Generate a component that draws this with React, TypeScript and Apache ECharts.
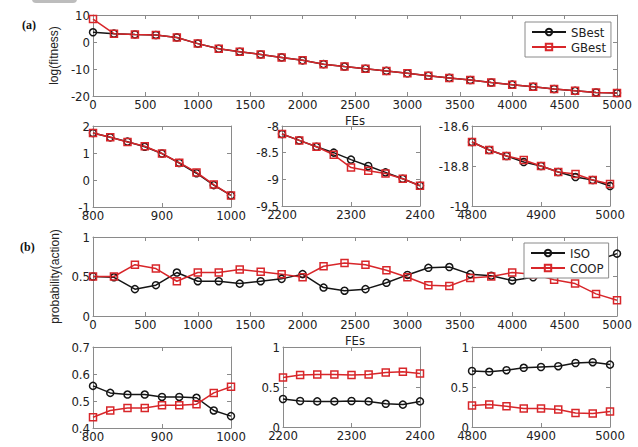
import React, { useEffect, useRef } from "react";
import * as echarts from "echarts";

// ---------- data ----------
const fesMain = [0, 200, 400, 600, 800, 1000, 1200, 1400, 1600, 1800, 2000, 2200, 2400, 2600, 2800, 3000, 3200, 3400, 3600, 3800, 4000, 4200, 4400, 4600, 4800, 5000];
const fesA1 = [800, 825, 850, 875, 900, 925, 950, 975, 1000];
const fesA2 = [2200, 2225, 2250, 2275, 2300, 2325, 2350, 2375, 2400];
const fesA3 = [4800, 4825, 4850, 4875, 4900, 4925, 4950, 4975, 5000];

const sBestMain = [3.6, 3.1, 2.8, 2.6, 1.7, -0.6, -2.5, -3.6, -4.6, -5.7, -6.8, -8.2, -9.1, -9.9, -10.7, -11.6, -12.5, -13.3, -14.1, -15.0, -15.8, -16.6, -17.4, -18.1, -18.7, -18.9];
const gBestMain = [8.5, 3.1, 2.8, 2.6, 1.7, -0.6, -2.5, -3.6, -4.6, -5.7, -6.8, -8.2, -9.1, -9.9, -10.7, -11.6, -12.5, -13.3, -14.1, -15.0, -15.8, -16.6, -17.4, -18.1, -18.7, -18.9];
const sBestA1 = [1.74, 1.58, 1.42, 1.23, 0.98, 0.63, 0.25, -0.19, -0.57];
const gBestA1 = [1.74, 1.58, 1.41, 1.25, 0.98, 0.64, 0.28, -0.17, -0.57];
const sBestA2 = [-8.15, -8.27, -8.39, -8.5, -8.63, -8.75, -8.87, -8.99, -9.12];
const gBestA2 = [-8.15, -8.27, -8.39, -8.54, -8.78, -8.84, -8.89, -8.99, -9.12];
const sBestA3 = [-18.68, -18.72, -18.75, -18.78, -18.8, -18.83, -18.855, -18.87, -18.9];
const gBestA3 = [-18.68, -18.72, -18.75, -18.77, -18.8, -18.83, -18.84, -18.87, -18.89];

const isoMain = [0.5, 0.49, 0.34, 0.39, 0.55, 0.44, 0.44, 0.41, 0.44, 0.47, 0.53, 0.36, 0.32, 0.34, 0.42, 0.52, 0.61, 0.62, 0.53, 0.51, 0.45, 0.49, 0.55, 0.62, 0.7, 0.79];
const coopMain = [0.5, 0.5, 0.65, 0.6, 0.44, 0.55, 0.55, 0.59, 0.56, 0.53, 0.49, 0.63, 0.67, 0.65, 0.58, 0.49, 0.39, 0.38, 0.48, 0.5, 0.55, 0.53, 0.46, 0.41, 0.28, 0.2];
const isoB1 = [0.556, 0.53, 0.524, 0.524, 0.515, 0.515, 0.512, 0.465, 0.444];
const coopB1 = [0.44, 0.465, 0.474, 0.474, 0.484, 0.484, 0.488, 0.53, 0.553];
const isoB2 = [0.35, 0.325, 0.32, 0.32, 0.325, 0.32, 0.29, 0.28, 0.32];
const coopB2 = [0.62, 0.65, 0.655, 0.655, 0.65, 0.655, 0.68, 0.69, 0.67];
const isoB3 = [0.7, 0.69, 0.71, 0.74, 0.75, 0.76, 0.8, 0.81, 0.78];
const coopB3 = [0.27, 0.28, 0.26, 0.23, 0.23, 0.22, 0.175, 0.17, 0.195];

// ---------- styling ----------
const FONT = "'Liberation Sans Narrow', 'DejaVu Sans Condensed', 'Liberation Sans', Arial, sans-serif";
const AXIS_COLOR = "#8a8a8a";
const LABEL_COLOR = "#222";
const BLACK = "#151515";
const RED = "#d8262a";

type Panel = {
  grid: { left: number; top: number; width: number; height: number };
  x: [number, number, number];
  y: [number, number, number];
  xName?: string;
  yName?: string;
};

const panels: Panel[] = [
  { grid: { left: 93, top: 15, width: 524, height: 81 }, x: [0, 5000, 500], y: [-20, 10, 10], xName: "FEs", yName: "log(fitness)" },
  { grid: { left: 93, top: 126, width: 138, height: 81 }, x: [800, 1000, 100], y: [-1, 2, 1] },
  { grid: { left: 282, top: 126, width: 138, height: 80 }, x: [2200, 2400, 100], y: [-9.5, -8, 0.5] },
  { grid: { left: 472, top: 126, width: 138, height: 80 }, x: [4800, 5000, 100], y: [-19, -18.6, 0.2] },
  { grid: { left: 93, top: 237, width: 524, height: 79 }, x: [0, 5000, 500], y: [0, 1, 0.5], xName: "FEs", yName: "probability(action)" },
  { grid: { left: 93, top: 347, width: 138, height: 81 }, x: [800, 1000, 100], y: [0.4, 0.7, 0.1] },
  { grid: { left: 283, top: 347, width: 137, height: 80 }, x: [2200, 2400, 100], y: [0, 1, 0.5] },
  { grid: { left: 472, top: 347, width: 138, height: 80 }, x: [4800, 5000, 100], y: [0, 1, 0.5] },
];

const pairs = (xs: number[], ys: number[]) => xs.map((x, i) => [x, ys[i]]);
const fmt = (v: number) => String(Number(v.toFixed(4)));

function mkSeries(name: string, gi: number, xs: number[], ys: number[], color: string, symbol: string) {
  return {
    type: "line",
    name,
    xAxisIndex: gi * 2,
    yAxisIndex: gi * 2,
    data: pairs(xs, ys),
    symbol,
    symbolSize: 7,
    showAllSymbol: true,
    clip: false,
    lineStyle: { color, width: 1.5 },
    itemStyle: { color: "rgba(255,255,255,0)", borderColor: color, borderWidth: 1.5 },
    emphasis: { disabled: true },
    z: 3,
  };
}

export default function App() {
  const ref = useRef<HTMLDivElement>(null);
  useEffect(() => {
    if (!ref.current) return;
    const chart = echarts.init(ref.current, undefined, { renderer: "svg" });

    const axisLine = { show: true, onZero: false, lineStyle: { color: AXIS_COLOR, width: 1 } };
    const axisTick = { show: true, inside: true, length: 4, lineStyle: { color: AXIS_COLOR } };

    const xAxis: any[] = [];
    const yAxis: any[] = [];
    panels.forEach((p, gi) => {
      xAxis.push({
        type: "value", gridIndex: gi, position: "bottom",
        min: p.x[0], max: p.x[1], interval: p.x[2],
        axisLine, axisTick,
        axisLabel: { color: LABEL_COLOR, fontSize: 13, lineHeight: 12, fontFamily: FONT, margin: 2, formatter: fmt },
        splitLine: { show: false },
        name: p.xName, nameLocation: "middle", nameGap: 18,
        nameTextStyle: { color: LABEL_COLOR, fontSize: 13, fontFamily: FONT },
      });
      xAxis.push({
        type: "value", gridIndex: gi, position: "top",
        min: p.x[0], max: p.x[1], interval: p.x[2],
        axisLine, axisTick, axisLabel: { show: false }, splitLine: { show: false },
      });
      yAxis.push({
        type: "value", gridIndex: gi, position: "left",
        min: p.y[0], max: p.y[1], interval: p.y[2],
        axisLine, axisTick,
        axisLabel: { color: LABEL_COLOR, fontSize: 13, lineHeight: 11, fontFamily: FONT, margin: 3, formatter: fmt },
        splitLine: { show: false },
        name: p.yName, nameLocation: "middle", nameGap: 23,
        nameTextStyle: { color: LABEL_COLOR, fontSize: 12, fontFamily: "'Liberation Sans', Arial, sans-serif" },
      });
      yAxis.push({
        type: "value", gridIndex: gi, position: "right",
        min: p.y[0], max: p.y[1], interval: p.y[2],
        axisLine, axisTick, axisLabel: { show: false }, splitLine: { show: false },
      });
    });

    const series = [
      mkSeries("SBest", 0, fesMain, sBestMain, BLACK, "circle"),
      mkSeries("GBest", 0, fesMain, gBestMain, RED, "rect"),
      mkSeries("SBest", 1, fesA1, sBestA1, BLACK, "circle"),
      mkSeries("GBest", 1, fesA1, gBestA1, RED, "rect"),
      mkSeries("SBest", 2, fesA2, sBestA2, BLACK, "circle"),
      mkSeries("GBest", 2, fesA2, gBestA2, RED, "rect"),
      mkSeries("SBest", 3, fesA3, sBestA3, BLACK, "circle"),
      mkSeries("GBest", 3, fesA3, gBestA3, RED, "rect"),
      mkSeries("ISO", 4, fesMain, isoMain, BLACK, "circle"),
      mkSeries("COOP", 4, fesMain, coopMain, RED, "rect"),
      mkSeries("ISO", 5, fesA1, isoB1, BLACK, "circle"),
      mkSeries("COOP", 5, fesA1, coopB1, RED, "rect"),
      mkSeries("ISO", 6, fesA2, isoB2, BLACK, "circle"),
      mkSeries("COOP", 6, fesA2, coopB2, RED, "rect"),
      mkSeries("ISO", 7, fesA3, isoB3, BLACK, "circle"),
      mkSeries("COOP", 7, fesA3, coopB3, RED, "rect"),
    ];

    const legendBase = {
      orient: "vertical",
      itemWidth: 34,
      itemHeight: 8,
      itemGap: 1,
      padding: [3, 5, 3, 6],
      borderColor: AXIS_COLOR,
      borderWidth: 1,
      borderRadius: 0,
      backgroundColor: "#fff",
      selectedMode: false,
      textStyle: { fontSize: 13, lineHeight: 14, color: LABEL_COLOR, fontFamily: FONT },
      z: 10,
    };

    chart.setOption({
      animation: false,
      backgroundColor: "#fff",
      grid: panels.map((p) => ({ ...p.grid, containLabel: false })),
      xAxis,
      yAxis,
      series,
      legend: [
        { ...legendBase, left: 525, top: 22, data: ["SBest", "GBest"] },
        { ...legendBase, left: 524, top: 243, data: ["ISO", "COOP"] },
      ],
      graphic: [
        { type: "rect", shape: { x: 32, y: -6, width: 45, height: 9, r: 4 }, style: { fill: "#bdbdbd" } },
        { type: "text", left: 22, top: 19, style: { text: "(a)", font: "bold 12px 'Liberation Serif', serif", fill: "#111" } },
        { type: "text", left: 20, top: 241, style: { text: "(b)", font: "bold 12px 'Liberation Serif', serif", fill: "#111" } },
      ],
    });
    return () => chart.dispose();
  }, []);
  return <div ref={ref} style={{ position: "fixed", left: 0, top: 0, width: 638, height: 447 }} />;
}
